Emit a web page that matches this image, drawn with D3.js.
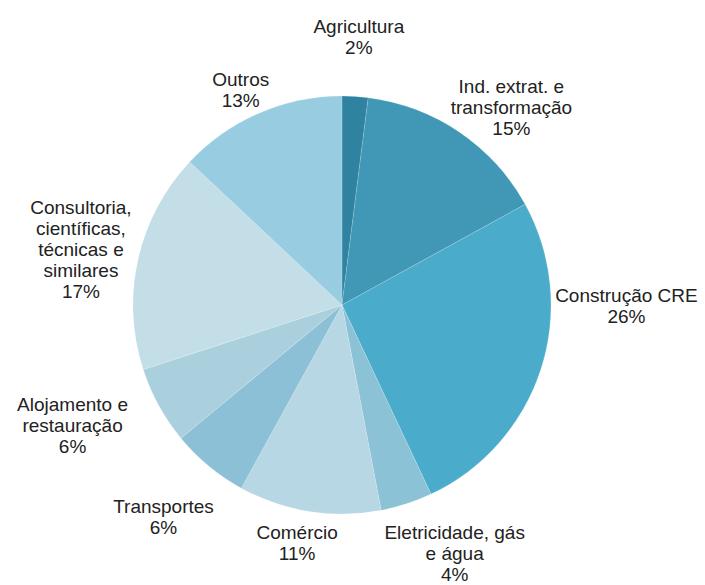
<!DOCTYPE html>
<html>
<head>
<meta charset="utf-8">
<script src="https://cdn.jsdelivr.net/npm/d3@7"></script>
<style>
  html, body { margin: 0; padding: 0; background: #fff; }
  svg { display: block; }
  text { font-family: "Liberation Sans", Arial, sans-serif; fill: #222222; }
</style>
</head>
<body>
<svg id="chart" width="705" height="585"></svg>
<script>
// Sector shares, clockwise from 12 o'clock
const categories = [
  ["Agricultura"],
  ["Ind. extrat. e", "transformação"],
  ["Construção CRE"],
  ["Eletricidade, gás", "e água"],
  ["Comércio"],
  ["Transportes"],
  ["Alojamento e", "restauração"],
  ["Consultoria,", "científicas,", "técnicas e", "similares"],
  ["Outros"]
];
const shares = [2, 15, 26, 4, 11, 6, 6, 17, 13];
const colors = ["#2f82a0", "#4098b6", "#4aacca", "#8cc2d6", "#b7d7e4",
                "#8cc0d6", "#aad0de", "#c4dee8", "#98cde1"];

// Label placement: nudges away from the default label ring
const labelNudge = [[0, -1], [19, 24], [30, -82], [30, -6], [-3, -26],
                    [-8, 6], [-35, -9], [0, 3], [5, 30]];

const W = 705, H = 585;
const cx = 342, cy = 305, radius = 209;
const labelRadius = radius * 1.28;
const fontSize = 19, lineHeight = 21;

const svg = d3.select("#chart");
const g = svg.append("g").attr("transform", `translate(${cx},${cy})`);

const data = shares.map((v, i) => ({ name: categories[i], value: v, color: colors[i], i }));

const pie = d3.pie().value(d => d.value).sort(null);
const arc = d3.arc().innerRadius(0).outerRadius(radius);
const labelArc = d3.arc().innerRadius(labelRadius).outerRadius(labelRadius);

const arcs = pie(data);

g.selectAll("path.slice")
  .data(arcs)
  .join("path")
  .attr("class", "slice")
  .attr("d", arc)
  .attr("fill", d => d.data.color)
  .attr("stroke", "#ffffff")
  .attr("stroke-opacity", 0.3)
  .attr("stroke-width", 0.5);

const labels = g.selectAll("text.label")
  .data(arcs)
  .join("text")
  .attr("class", "label")
  .attr("text-anchor", "middle")
  .attr("font-size", fontSize)
  .attr("transform", d => {
    const [x, y] = labelArc.centroid(d);
    const [nx, ny] = labelNudge[d.data.i];
    return `translate(${x + nx},${y + ny})`;
  });

labels.each(function (d) {
  const lines = d.data.name.concat([d.data.value + "%"]);
  const n = lines.length;
  const t = d3.select(this);
  lines.forEach((line, k) => {
    t.append("tspan")
      .attr("x", 0)
      .attr("y", (k - (n - 1) / 2) * lineHeight)
      .attr("dy", "0.35em")
      .text(line);
  });
});
</script>
</body>
</html>
